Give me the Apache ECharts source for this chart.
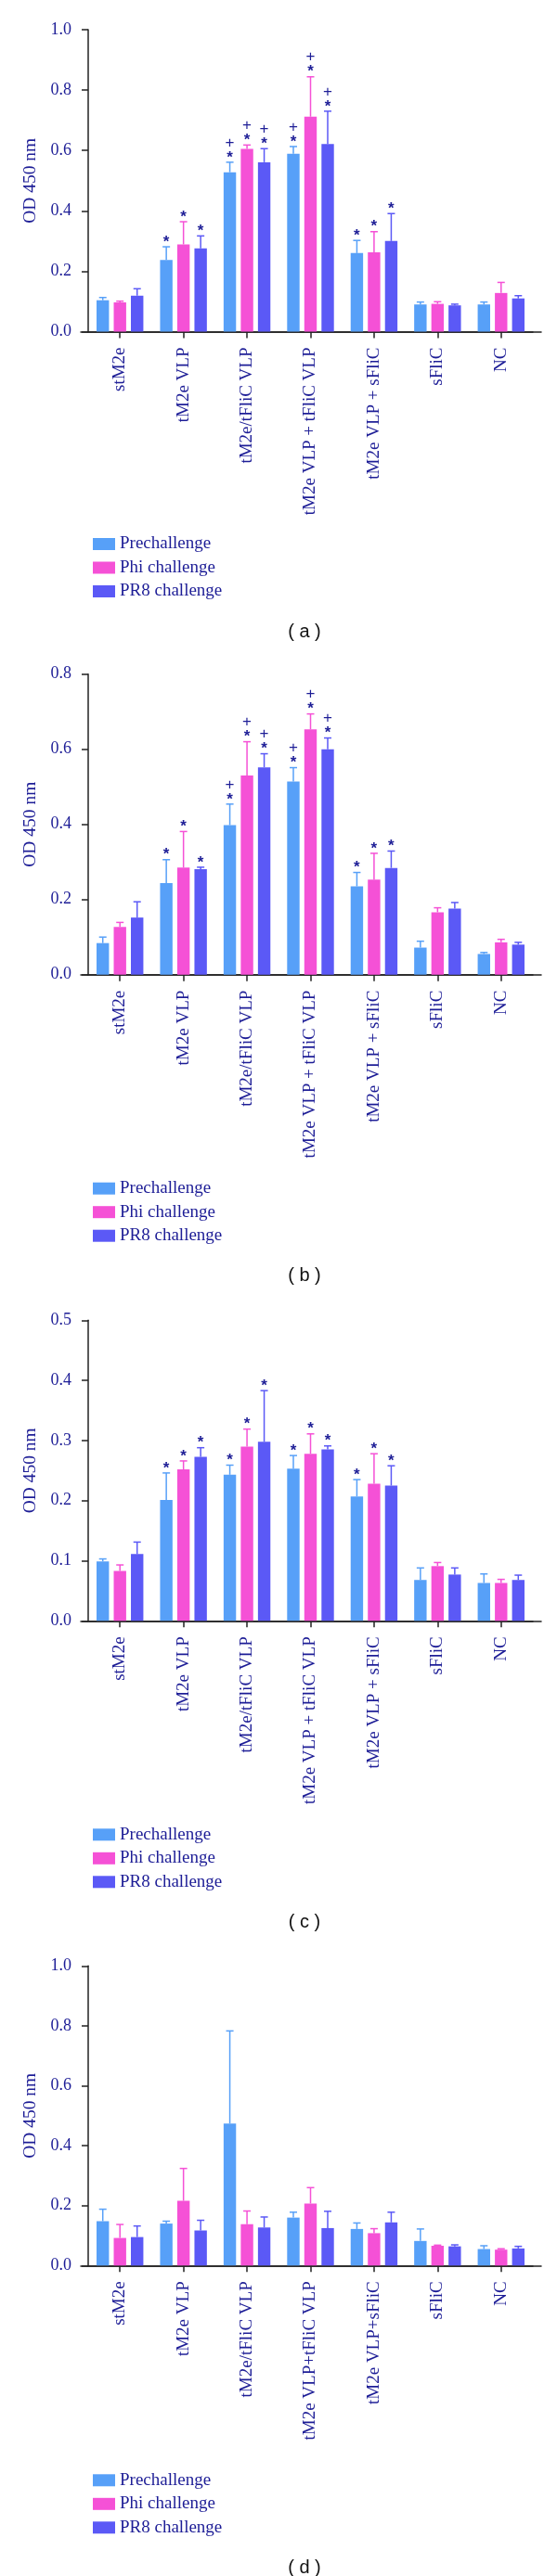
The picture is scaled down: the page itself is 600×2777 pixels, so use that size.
<!DOCTYPE html>
<html><head><meta charset="utf-8">
<script src="https://cdn.jsdelivr.net/npm/echarts@6/dist/echarts.min.js"></script>
<style>html,body{margin:0;padding:0;background:#fff}#c{width:600px;height:2777px}</style>
</head><body><div id="c"></div>
<script>
// ---------- data ----------
const categories = ['stM2e','tM2e VLP','tM2e/tFliC VLP','tM2e VLP + tFliC VLP','tM2e VLP + sFliC','sFliC','NC'];
const categoriesD = ['stM2e','tM2e VLP','tM2e/tFliC VLP','tM2e VLP+tFliC VLP','tM2e VLP+sFliC','sFliC','NC'];
const seriesNames = ['Prechallenge','Phi challenge','PR8 challenge'];
const panelLabels = ['( a )','( b )','( c )','( d )'];
const yMax = [1.0, 0.8, 0.5, 1.0];
const yInterval = [0.2, 0.2, 0.1, 0.2];

// panel (a)
const preA = [0.104,0.237,0.528,0.589,0.260,0.090,0.090];
const preA_sd = [0.009,0.044,0.033,0.024,0.042,0.008,0.008];
const phiA = [0.097,0.289,0.605,0.712,0.263,0.092,0.128];
const phiA_sd = [0.004,0.075,0.013,0.132,0.068,0.007,0.035];
const pr8A = [0.119,0.276,0.561,0.621,0.300,0.087,0.110];
const pr8A_sd = [0.023,0.041,0.045,0.109,0.091,0.004,0.009];
const sigA = ['','*','*+','*+','*','',''];
// panel (b)
const preB = [0.084,0.244,0.398,0.514,0.235,0.072,0.055];
const preB_sd = [0.016,0.062,0.056,0.037,0.037,0.017,0.004];
const phiB = [0.127,0.285,0.530,0.653,0.253,0.166,0.086];
const phiB_sd = [0.012,0.096,0.090,0.041,0.070,0.012,0.008];
const pr8B = [0.152,0.281,0.552,0.600,0.284,0.176,0.080];
const pr8B_sd = [0.042,0.005,0.036,0.030,0.045,0.016,0.006];
const sigB = ['','*','*+','*+','*','',''];
// panel (c)
const preC = [0.099,0.201,0.243,0.253,0.207,0.068,0.063];
const preC_sd = [0.004,0.045,0.016,0.022,0.028,0.020,0.015];
const phiC = [0.083,0.252,0.290,0.278,0.228,0.091,0.063];
const phiC_sd = [0.010,0.014,0.029,0.033,0.050,0.006,0.006];
const pr8C = [0.111,0.273,0.298,0.285,0.225,0.077,0.068];
const pr8C_sd = [0.020,0.015,0.085,0.006,0.033,0.011,0.008];
const sigC = ['','*','*','*','*','',''];
// panel (d)
const preD = [0.148,0.140,0.474,0.160,0.122,0.082,0.055];
const preD_sd = [0.040,0.008,0.309,0.018,0.020,0.040,0.011];
const phiD = [0.092,0.216,0.138,0.207,0.108,0.066,0.053];
const phiD_sd = [0.045,0.108,0.044,0.053,0.015,0.002,0.003];
const pr8D = [0.095,0.117,0.127,0.125,0.144,0.064,0.057];
const pr8D_sd = [0.037,0.034,0.035,0.056,0.034,0.005,0.007];
const sigD = ['','','','','','',''];

// ---------- style ----------
const colors = ['#57a0f8','#f551d6','#5b59f6'];
const navy = '#1d1d96';
const serif = '"Liberation Serif", "Times New Roman", serif';
const sans = '"Liberation Sans", Arial, sans-serif';
const BAR_W = 13.4, BAR_GAP = 5.1;

const panels = [
  {cats: categories,  top: 32,     h: 325.5, means:[preA,phiA,pr8A], sds:[preA_sd,phiA_sd,pr8A_sd], sig:sigA},
  {cats: categories,  top: 726.7,  h: 324,   means:[preB,phiB,pr8B], sds:[preB_sd,phiB_sd,pr8B_sd], sig:sigB},
  {cats: categories,  top: 1423.3, h: 324,   means:[preC,phiC,pr8C], sds:[preC_sd,phiC_sd,pr8C_sd], sig:sigC},
  {cats: categoriesD, top: 2119.3, h: 323,   means:[preD,phiD,pr8D], sds:[preD_sd,phiD_sd,pr8D_sd], sig:sigD}
];
const GL = 95, GW = 479;

const option = {animation:false, backgroundColor:'#fff', grid:[], xAxis:[], yAxis:[], series:[], legend:[], title:[]};

panels.forEach((p, pi) => {
  const gi = option.grid.length;
  option.grid.push({left:GL, top:p.top, width:GW, height:p.h, outerBoundsMode:'none', containLabel:false});
  option.xAxis.push({
    gridIndex:gi, type:'category', data:p.cats,
    axisLine:{show:true, lineStyle:{color:'#222', width:1.5}},
    axisTick:{show:true, alignWithLabel:true, length:7, lineStyle:{color:'#222', width:1.5}},
    axisLabel:{rotate:90, margin:17, color:navy, fontFamily:serif, fontSize:19, interval:0}
  });
  option.yAxis.push({
    gridIndex:gi, type:'value', min:0, max:yMax[pi], interval:yInterval[pi],
    name:'OD 450 nm', nameLocation:'middle', nameGap:52,
    nameTextStyle:{color:navy, fontFamily:serif, fontSize:19.5},
    axisLine:{show:true, lineStyle:{color:'#222', width:1.5}},
    axisTick:{show:true, length:7, lineStyle:{color:'#222', width:1.5}},
    axisLabel:{margin:18, color:navy, fontFamily:serif, fontSize:18, formatter:v=>v.toFixed(1)},
    splitLine:{show:false}
  });
  // extended x axis line (extra grid, line only)
  const gi2 = option.grid.length;
  option.grid.push({left:GL-8, top:p.top, width:GW+17, height:p.h, outerBoundsMode:'none', containLabel:false});
  option.xAxis.push({gridIndex:gi2, type:'value', min:0, max:1, axisLine:{show:true, lineStyle:{color:'#222', width:1.5}}, axisTick:{show:false}, axisLabel:{show:false}, splitLine:{show:false}});
  option.yAxis.push({gridIndex:gi2, type:'value', show:false, min:0, max:1});

  for (let k = 0; k < 3; k++) {
    option.series.push({
      type:'bar', name:seriesNames[k], xAxisIndex:gi, yAxisIndex:gi,
      data:p.means[k], barWidth:BAR_W, barGap:(BAR_GAP/BAR_W*100).toFixed(1)+'%',
      itemStyle:{color:colors[k]}, z:2
    });
  }
  for (let k = 0; k < 3; k++) {
    const means = p.means[k], sds = p.sds[k], sig = p.sig;
    option.series.push({
      type:'custom', name:seriesNames[k]+' err', xAxisIndex:gi, yAxisIndex:gi, z:3,
      data: means.map((m,i)=>[i, m, sds[i]]),
      renderItem:(params, api) => {
        const i = api.value(0), m = api.value(1), s = api.value(2);
        const base = api.coord([i, m]);
        const top = api.coord([i, m + s]);
        const x = base[0] + (k-1)*(BAR_W + BAR_GAP);
        const st = {stroke:colors[k], lineWidth:1.5};
        const children = [
          {type:'line', shape:{x1:x, y1:base[1], x2:x, y2:top[1]}, style:st},
          {type:'line', shape:{x1:x-4, y1:top[1], x2:x+4, y2:top[1]}, style:st}
        ];
        const s2 = sig[params.dataIndex] || '';
        if (s2.indexOf('*') >= 0) children.push({type:'text', style:{text:'*', x:x, y:top[1]-5, align:'center', verticalAlign:'middle', fill:navy, font:'bold 17px '+sans}});
        if (s2.indexOf('+') >= 0) children.push({type:'text', style:{text:'+', x:x, y:top[1]-21, align:'center', verticalAlign:'middle', fill:navy, font:'17px '+sans}});
        return {type:'group', children};
      }
    });
  }
  option.legend.push({
    orient:'vertical', left:GL, top:p.top + 540, icon:'rect', itemWidth:24, itemHeight:13,
    itemGap:6.5, itemTextGap:13, selectedMode:false,
    data:seriesNames, textStyle:{color:navy, fontFamily:serif, fontSize:19}
  });
  option.title.push({
    text:panelLabels[pi], left:323, top:p.top + 634, textAlign:'center',
    textStyle:{color:'#111', fontFamily:sans, fontSize:20, fontWeight:'normal'}
  });
});

const chart = echarts.init(document.getElementById('c'), null, {renderer:'canvas'});
chart.setOption(option);
</script></body></html>
